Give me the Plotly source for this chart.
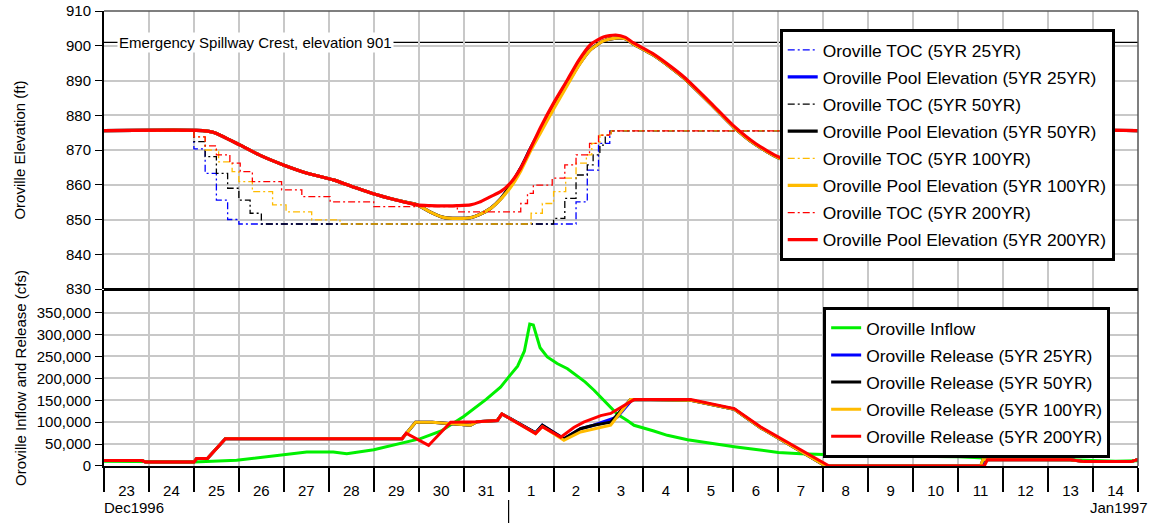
import pandas as pd
import plotly.graph_objects as go

# ---------------- data (days since 23 Dec 1996 00:00) ----------------
START = "1996-12-23"
END = "1997-01-15"
SPILLWAY_FT = 901

pool_days = [0, 2.2, 2.43, 3.03, 3.5, 3.99, 4.5, 5.1, 5.5, 5.99, 6.5, 6.97, 7.25, 7.55, 7.85,
             8.15, 8.35, 8.6, 8.82, 9.04, 9.27, 9.49, 9.71, 10.0, 10.3, 10.56, 10.82, 11.11,
             11.38, 11.6, 11.78, 12.2, 12.61, 12.9, 13.5, 14.0, 14.5, 15.01, 15.5, 16.2, 17,
             18, 19, 19.6, 23]
pool_200 = [875.6, 875.6, 875.1, 871.4, 868.3, 865.7, 863.4, 861.4, 859.6, 857.4, 855.6, 854.2,
            854.0, 853.9, 854.0, 854.2, 855.0, 856.6, 858.0, 860.5, 864.8, 870.5, 876.5, 883.5,
            890.0, 895.8, 900.3, 902.5, 903.1, 902.4, 900.8, 897.8, 894.0, 891.0, 883.5, 877.0,
            871.8, 868.0, 866.3, 865.5, 867.6, 870.6, 873.6, 875.6, 875.6]
pool_100 = [875.6, 875.6, 875.1, 871.4, 868.3, 865.7, 863.4, 861.4, 859.6, 857.4, 855.6, 854.2,
            852.2, 850.6, 850.3, 850.5, 851.4, 853.2, 855.8, 859.2, 864.0, 869.8, 875.0, 881.8,
            888.5, 894.3, 898.8, 901.4, 902.2, 902.0, 900.5, 897.5, 893.7, 890.7, 883.2, 876.7,
            871.5, 867.7, 866.0, 865.2, 867.2, 870.2, 873.2, 875.3, 875.6]
pool_50 = [875.6, 875.6, 875.1, 871.4, 868.3, 865.7, 863.4, 861.4, 859.6, 857.4, 855.6, 854.2,
           852.2, 850.6, 850.3, 850.5, 851.4, 853.2, 855.9, 859.8, 864.8, 870.5, 875.8, 882.5,
           889.0, 894.5, 898.9, 901.4, 902.2, 902.0, 900.5, 897.5, 893.7, 890.7, 883.2, 876.7,
           871.5, 867.7, 866.0, 865.2, 867.2, 870.2, 873.2, 875.3, 875.6]
pool_25 = [875.6, 875.6, 875.1, 871.4, 868.3, 865.7, 863.4, 861.4, 859.6, 857.4, 855.6, 854.2,
           852.2, 850.6, 850.3, 850.5, 851.4, 853.2, 855.9, 859.8, 864.8, 870.5, 875.8, 882.5,
           889.0, 894.5, 898.9, 901.4, 902.2, 902.0, 900.5, 897.5, 893.7, 890.7, 883.2, 876.7,
           871.5, 867.7, 866.0, 865.2, 867.2, 870.2, 873.2, 875.3, 875.6]

toc25_days = [0, 2.0, 2.25, 2.5, 2.75, 3.0, 10.5, 10.75, 11.0, 11.25, 23]
toc25_ft = [875.5, 870.3, 863.3, 855.6, 850.0, 848.7, 855.1, 864.2, 871.9, 875.5, 875.5]

toc50_days = [0, 2.0, 2.25, 2.5, 2.75, 3.0, 3.25, 3.5, 10.0, 10.25, 10.5, 10.75, 10.88,
              11.03, 11.15, 11.28, 23]
toc50_ft = [875.5, 872.4, 868.1, 863.3, 859.0, 855.6, 851.8, 848.7, 850.3, 856.1, 862.8,
            865.7, 868.6, 871.4, 874.3, 875.5, 875.5]

toc100_days = [0, 2.0, 2.25, 2.55, 2.85, 3.0, 3.3, 3.75, 4.05, 4.62, 5.25, 9.5, 9.75, 10.0,
               10.27, 10.5, 10.73, 10.85, 11.03, 11.28, 23]
toc100_ft = [875.5, 873.8, 870.0, 866.6, 863.8, 860.9, 858.0, 854.2, 852.2, 849.9, 848.7,
             851.8, 854.6, 858.0, 861.9, 866.2, 868.6, 871.9, 874.3, 875.5, 875.5]

toc200_days = [0, 2.0, 2.25, 2.5, 2.8, 3.03, 3.3, 3.95, 4.4, 5.03, 6.0, 7.86, 9.27, 9.42,
               9.55, 9.97, 10.25, 10.5, 10.8, 11.0, 11.25, 23]
toc200_ft = [875.5, 873.8, 871.2, 868.6, 866.2, 863.8, 860.9, 858.5, 856.6, 855.1, 853.7,
             852.2, 854.6, 857.5, 859.9, 861.9, 865.7, 868.6, 871.9, 874.3, 875.5, 875.5]

inflow_days = [0, 1.0, 2.0, 2.95, 3.85, 4.51, 5.1, 5.4, 6.0, 6.59, 7.04, 7.5, 8.0, 8.5, 8.82,
               9.04, 9.2, 9.35, 9.47, 9.55, 9.7, 9.86, 10.08, 10.31, 10.45, 10.7, 10.9, 11.2,
               11.42, 11.64, 11.79, 12.23, 12.53, 12.98, 13.72, 14.02, 14.46, 15.0, 15.5, 15.95,
               17, 18, 19, 19.6, 20.5, 21.5, 22.5, 23]
inflow_cfs = [11000, 10000, 9000, 13000, 24000, 32000, 32000, 28000, 37000, 51000, 62500, 80000,
              113000, 152000, 180000, 208000, 228000, 262000, 324000, 322000, 270000, 249000,
              234000, 222000, 211000, 192000, 173000, 140000, 118000, 104000, 93000, 80000, 70000,
              60000, 48000, 44000, 38000, 31000, 28000, 26000, 23000, 22000, 21000, 18000, 15000,
              14000, 11000, 12000]

rel200_days = [0, 0.85, 0.92, 2.0, 2.06, 2.3, 2.7, 6.63, 6.72, 7.22, 7.71, 8.3, 8.75, 8.85, 9.6,
               9.75, 10.16, 10.45, 10.67, 11.05, 11.27, 11.79, 13.05, 14.02, 14.61, 16.13, 19.58,
               19.65, 21.5, 21.8, 22.85, 23]
rel200_cfs = [12500, 12500, 9000, 9000, 17000, 17000, 62500, 62500, 75000, 47000, 100000, 101000,
              104000, 119000, 74000, 90000, 66000, 88000, 100000, 115000, 120000, 151600, 151600,
              131000, 89000, 0, 0, 14000, 14000, 10000, 10000, 15000]

rel100_days = [0, 0.85, 0.92, 2.0, 2.06, 2.3, 2.7, 6.63, 6.93, 7.3, 8.15, 8.3, 8.75, 8.85, 9.6,
               9.75, 10.23, 10.6, 11.27, 11.71, 13.05, 14.02, 14.61, 16.05, 19.5, 19.55, 21.5,
               21.8, 22.85, 23]
rel100_cfs = [12500, 12500, 9000, 9000, 17000, 17000, 62500, 62500, 100000, 100000, 93000,
              101000, 104000, 119000, 74000, 90000, 58700, 77600, 93000, 151600, 150000, 129500,
              87000, 0, 0, 14000, 14000, 10000, 10000, 15000]

rel50_days = [0, 0.85, 0.92, 2.0, 2.06, 2.3, 2.7, 6.63, 6.93, 7.3, 8.15, 8.3, 8.75, 8.85, 9.6,
              9.75, 10.23, 10.6, 10.89, 11.27, 11.71, 13.05, 14.02, 14.61, 16.05, 19.5, 19.55,
              21.5, 21.8, 22.85, 23]
rel50_cfs = [12500, 12500, 9000, 9000, 17000, 17000, 62500, 62500, 100000, 100000, 93000,
             101000, 104000, 119000, 76000, 93000, 62000, 85000, 93000, 100000, 151600, 150000,
             129500, 87000, 0, 0, 14000, 14000, 10000, 10000, 15000]

rel25_days = [0, 0.85, 0.92, 2.0, 2.06, 2.3, 2.7, 6.63, 6.93, 7.3, 8.15, 8.3, 8.75, 8.85, 9.6,
              9.75, 10.23, 10.6, 10.89, 11.42, 11.75, 13.05, 14.02, 14.61, 16.05, 19.52, 19.58,
              21.5, 21.8, 22.85, 23]
rel25_cfs = [12500, 12500, 9000, 9000, 17000, 17000, 62500, 62500, 100000, 100000, 93000,
             101000, 104000, 119000, 76000, 93000, 62000, 85000, 93000, 112000, 151600, 150000,
             129500, 87000, 0, 0, 14000, 14000, 10000, 10000, 15000]

elev_ticks = list(range(830, 911, 10))
flow_ticks = list(range(0, 350001, 50000))

# ---------------- helpers ----------------
t0 = pd.Timestamp(START)


def to_time(days):
    return [t0 + pd.Timedelta(days=d) for d in days]


BLUE = "#0000ff"
BLACK = "#000000"
GOLD = "#ffbb00"
RED = "#ff0000"
GREEN = "#00f000"
GRID = "#c8c8c8"
FONT = "Liberation Sans, Arial, sans-serif"
DASHDOT = "7px,3px,2px,3px"

fig = go.Figure()

top = [
    ("Oroville TOC (5YR 25YR)", toc25_days, toc25_ft, BLUE, True),
    ("Oroville Pool Elevation (5YR 25YR)", pool_days, pool_25, BLUE, False),
    ("Oroville TOC (5YR 50YR)", toc50_days, toc50_ft, BLACK, True),
    ("Oroville Pool Elevation (5YR 50YR)", pool_days, pool_50, BLACK, False),
    ("Oroville TOC (5YR 100YR)", toc100_days, toc100_ft, GOLD, True),
    ("Oroville Pool Elevation (5YR 100YR)", pool_days, pool_100, GOLD, False),
    ("Oroville TOC (5YR 200YR)", toc200_days, toc200_ft, RED, True),
    ("Oroville Pool Elevation (5YR 200YR)", pool_days, pool_200, RED, False),
]
for i, (name, d, v, c, is_toc) in enumerate(top):
    if is_toc:
        line = dict(color=c, width=1.3, dash=DASHDOT, shape="hv")
    else:
        line = dict(color=c, width=3.2, shape="spline", smoothing=0.6)
    fig.add_trace(go.Scatter(x=to_time(d), y=v, name=name, mode="lines", line=line,
                             xaxis="x2", yaxis="y2", legend="legend",
                             legendgroup=f"t{i}"))

bottom = [
    ("Oroville Inflow", inflow_days, inflow_cfs, GREEN),
    ("Oroville Release (5YR 25YR)", rel25_days, rel25_cfs, BLUE),
    ("Oroville Release (5YR 50YR)", rel50_days, rel50_cfs, BLACK),
    ("Oroville Release (5YR 100YR)", rel100_days, rel100_cfs, GOLD),
    ("Oroville Release (5YR 200YR)", rel200_days, rel200_cfs, RED),
]
for i, (name, d, v, c) in enumerate(bottom):
    fig.add_trace(go.Scatter(x=to_time(d), y=v, name=name, mode="lines",
                             line=dict(color=c, width=3),
                             xaxis="x", yaxis="y", legend="legend2",
                             legendgroup=f"b{i}"))

x_range = [pd.Timestamp(START), pd.Timestamp(END)]
tickfont = dict(family=FONT, size=15, color="black")

fig.update_layout(
    template="none",
    width=1157, height=524,
    margin=dict(l=104, r=19, t=11, b=58, autoexpand=False),
    paper_bgcolor="white", plot_bgcolor="white",
    font=dict(family=FONT, size=15, color="black"),
    xaxis=dict(type="date", range=x_range, anchor="y", tick0=START, dtick=86400000,
               ticklabelmode="period", tickformat="%-d", ticks="outside", ticklen=24,
               tickwidth=1.5, tickcolor="black", tickfont=tickfont, ticklabelstandoff=-14,
               showgrid=True, gridcolor=GRID, gridwidth=1.5, automargin=False,
               showline=True, linecolor="black", linewidth=1.5, zeroline=False),
    xaxis2=dict(type="date", range=x_range, anchor="y2", matches="x", tick0=START,
                dtick=86400000, showticklabels=False, ticks="", automargin=False,
                showgrid=True, gridcolor=GRID, gridwidth=1.5, showline=False, zeroline=False),
    yaxis=dict(domain=[0, 0.3868], range=[0, 401800], tickvals=flow_ticks, tickformat=",d",
               ticks="outside", ticklen=7, tickcolor="black", tickfont=tickfont,
               ticklabelstandoff=1, automargin=False,
               showgrid=True, gridcolor=GRID, gridwidth=1.5,
               showline=True, linecolor="black", linewidth=2, zeroline=False,
               title=dict(text="Oroville Inflow and Release (cfs)", standoff=7,
                          font=dict(family=FONT, size=15))),
    yaxis2=dict(domain=[0.389, 1], range=[830, 910], tickvals=elev_ticks,
                ticks="outside", ticklen=7, tickcolor="black", tickfont=tickfont,
                ticklabelstandoff=1, automargin=False,
                showgrid=True, gridcolor=GRID, gridwidth=1.5,
                showline=True, linecolor="black", linewidth=2, zeroline=False,
                title=dict(text="Oroville Elevation (ft)", standoff=37,
                           font=dict(family=FONT, size=15))),
    legend=dict(x=0.6535, y=0.9604, xanchor="left", yanchor="top", bgcolor="white",
                bordercolor="black", borderwidth=3, traceorder="grouped", tracegroupgap=1.5,
                font=dict(family=FONT, size=17.4, color="black")),
    legend2=dict(x=0.6955, y=0.3495, xanchor="left", yanchor="top", bgcolor="white",
                 bordercolor="black", borderwidth=3, traceorder="grouped", tracegroupgap=1.5,
                 font=dict(family=FONT, size=17.4, color="black")),
    showlegend=True,
)

# spillway reference line and label
fig.add_shape(type="line", xref="x2", yref="y2", x0=x_range[0], x1=x_range[1],
              y0=SPILLWAY_FT, y1=SPILLWAY_FT, line=dict(color="black", width=1.3), layer="below")
fig.add_annotation(xref="paper", yref="y2", x=0.0126, y=SPILLWAY_FT, xanchor="left",
                   yanchor="middle", text=f"Emergency Spillway Crest, elevation {SPILLWAY_FT}",
                   showarrow=False, bgcolor="white", borderpad=1,
                   font=dict(family=FONT, size=15, color="black"))

# frame: top/right border and thick panel divider
fig.add_shape(type="line", xref="paper", yref="paper", x0=0, x1=1, y0=1, y1=1,
              line=dict(color="#555555", width=1.5))
fig.add_shape(type="line", xref="paper", yref="paper", x0=1, x1=1, y0=0, y1=1,
              line=dict(color="#555555", width=1.5))
fig.add_shape(type="line", xref="paper", yref="paper", x0=0, x1=1, y0=0.3879, y1=0.3879,
              line=dict(color="black", width=3))

# month labels and month boundary tick
fig.add_annotation(xref="paper", yref="paper", x=-0.002, y=-0.092, xanchor="left",
                   yanchor="middle", text="Dec1996", showarrow=False,
                   font=dict(family=FONT, size=15, color="black"))
fig.add_annotation(xref="paper", yref="paper", x=1.0116, y=-0.092, xanchor="right",
                   yanchor="middle", text="Jan1997", showarrow=False,
                   font=dict(family=FONT, size=15, color="black"))
fig.add_shape(type="line", xref="x", yref="paper", x0="1997-01-01", x1="1997-01-01",
              y0=-0.0747, y1=-0.125, line=dict(color="black", width=1.2))

# remove the browser's default page margin so the figure fills the window exactly
fig.write_html("out.html", config={"displayModeBar": False},
               post_script="document.body.style.margin='0';document.body.style.overflow='hidden';")
